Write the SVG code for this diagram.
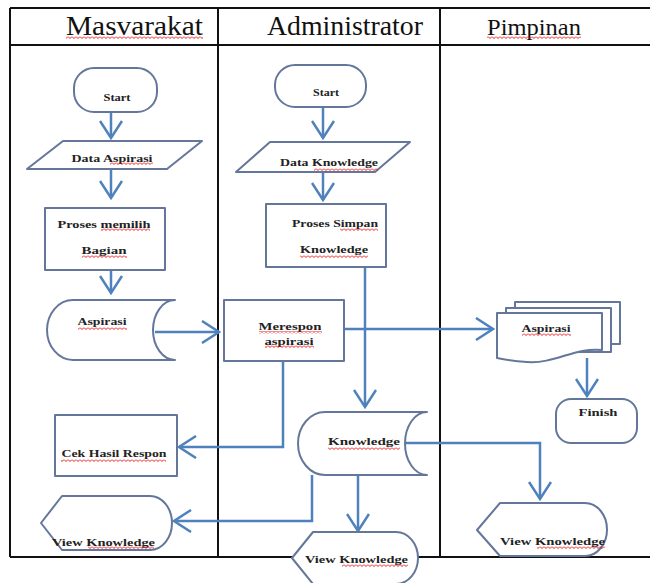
<svg xmlns="http://www.w3.org/2000/svg" width="650" height="583" viewBox="0 0 650 583">
<style>
.lane{stroke:#111;stroke-width:2;fill:none}
.hdr{font-family:'Liberation Serif','Times New Roman','DejaVu Serif',serif;fill:#111}
.shp{fill:#fff;stroke:#64779a;stroke-width:2;stroke-linejoin:round}
.lbl{font-family:'Liberation Serif','Times New Roman','DejaVu Serif',serif;font-size:11px;font-weight:bold;fill:#222;text-anchor:middle}
.lbs{font-family:'Liberation Serif','Times New Roman','DejaVu Serif',serif;font-size:11px;font-weight:bold;fill:#222}
.con{fill:none;stroke:#4f81bd;stroke-width:2.5;marker-end:url(#arr)}
.sq{fill:url(#wavy)}
</style>
<defs>
<marker id="arr" markerUnits="userSpaceOnUse" markerWidth="22" markerHeight="24" refX="17" refY="11" orient="auto" viewBox="-2 -1 22 24">
<path d="M0,0 L17,11 L0,22" fill="none" stroke="#4f81bd" stroke-width="2.5"/>
</marker>
<pattern id="wavy" width="4" height="3" patternUnits="userSpaceOnUse">
<path d="M0,0.5 L2,2.5 L4,0.5" fill="none" stroke="#e00" stroke-width="0.9"/>
</pattern>
</defs>
<rect width="650" height="583" fill="#fff"/>
<g id="swimlanes">
<path class="lane" d="M10,8 H650 M10,45 H650 M10,557 H650 M10,8 V557 M218,8 V557 M440,8 V557"/>
<text class="hdr" x="66" y="35" font-size="28" textLength="137" lengthAdjust="spacingAndGlyphs">Masvarakat</text>
<text class="hdr" x="267" y="35" font-size="28" textLength="156" lengthAdjust="spacingAndGlyphs">Administrator</text>
<text class="hdr" x="487" y="35" font-size="24" textLength="94" lengthAdjust="spacingAndGlyphs" fill="#402060">Pimpinan</text>
</g>
<g id="connectors">
<path class="con" d="M111,112 V138"/>
<path class="con" d="M111,169 V198"/>
<path class="con" d="M111,270 V293"/>
<path class="con" d="M155,332 H219"/>
<path class="con" d="M323,107 V138"/>
<path class="con" d="M323,172 V200"/>
<path class="con" d="M365,267 V407"/>
<path class="con" d="M344,329 H493"/>
<path class="con" d="M283,361 V447 H179"/>
<path class="con" d="M405,443 H540 V499"/>
<path class="con" d="M358,475 V531"/>
<path class="con" d="M312,475 V521 H174"/>
<path class="con" d="M587,358 V396"/>
</g>
<g id="start-masyarakat">
<rect class="shp" x="74" y="68" width="83" height="44" rx="20"/>
<text class="lbl" x="117" y="101" textLength="27" lengthAdjust="spacingAndGlyphs">Start</text>
</g>
<g id="data-aspirasi">
<polygon class="shp" points="63,141 202,141 167,169 27,169"/>
<text class="lbl" x="112" y="162" textLength="81" lengthAdjust="spacingAndGlyphs">Data Aspirasi</text>
</g>
<g id="proses-memilih">
<rect class="shp" x="45" y="208" width="120" height="62"/>
<text class="lbl" x="104" y="228" textLength="93" lengthAdjust="spacingAndGlyphs">Proses memilih</text>
<text class="lbl" x="104" y="254" textLength="45" lengthAdjust="spacingAndGlyphs">Bagian</text>
</g>
<g id="aspirasi-store">
<path class="shp" d="M73,300 H175 A22,30 0 0 0 175,360 H73 A26,30 0 0 1 73,300 Z"/>
<text class="lbl" x="102" y="325" textLength="49" lengthAdjust="spacingAndGlyphs">Aspirasi</text>
</g>
<g id="cek-hasil">
<rect class="shp" x="55" y="415" width="122" height="61"/>
<text class="lbl" x="114" y="457" textLength="105" lengthAdjust="spacingAndGlyphs">Cek Hasil Respon</text>
</g>
<g id="view-masyarakat">
<path class="shp" d="M41,523 L62,496 H150 A22,27 0 0 1 150,550 H62 Z"/>
<text class="lbs" x="52" y="546" textLength="103" lengthAdjust="spacingAndGlyphs">View Knowledge</text>
</g>
<g id="start-admin">
<rect class="shp" x="275" y="65" width="91" height="42" rx="20"/>
<text class="lbl" x="326" y="96" textLength="26" lengthAdjust="spacingAndGlyphs">Start</text>
</g>
<g id="data-knowledge">
<polygon class="shp" points="270,142 410,142 375,172 236,172"/>
<text class="lbl" x="329" y="166" textLength="98" lengthAdjust="spacingAndGlyphs">Data Knowledge</text>
</g>
<g id="proses-simpan">
<rect class="shp" x="266" y="204" width="120" height="63"/>
<text class="lbl" x="335" y="227" textLength="86" lengthAdjust="spacingAndGlyphs">Proses Simpan</text>
<text class="lbl" x="334" y="253" textLength="68" lengthAdjust="spacingAndGlyphs">Knowledge</text>
</g>
<g id="merespon">
<rect class="shp" x="224" y="300" width="120" height="61"/>
<text class="lbl" x="290" y="330" textLength="63" lengthAdjust="spacingAndGlyphs">Merespon</text>
<text class="lbl" x="289" y="345" textLength="49" lengthAdjust="spacingAndGlyphs">aspirasi</text>
</g>
<g id="knowledge-store">
<path class="shp" d="M325,412 H427 A22,31.5 0 0 0 427,475 H325 A27,31.5 0 0 1 325,412 Z"/>
<text class="lbl" x="364" y="445" textLength="72" lengthAdjust="spacingAndGlyphs">Knowledge</text>
</g>
<g id="view-admin">
<path class="shp" d="M292,558 L313,532 H396 A22,26 0 0 1 396,584 H313 Z"/>
<text class="lbs" x="305" y="563" textLength="103" lengthAdjust="spacingAndGlyphs">View Knowledge</text>
</g>
<g id="aspirasi-docs">
<rect class="shp" x="515" y="302" width="105" height="42"/>
<rect class="shp" x="506" y="308" width="105" height="44"/>
<path class="shp" d="M497,313 H602 V350 C575,347 555,364 527,362 C512,361 502,359 497,358 Z"/>
<text class="lbl" x="546" y="332" textLength="49" lengthAdjust="spacingAndGlyphs">Aspirasi</text>
</g>
<g id="finish">
<rect class="shp" x="556" y="399" width="81" height="44" rx="15"/>
<text class="lbl" x="598" y="416" textLength="39" lengthAdjust="spacingAndGlyphs" fill="#111">Finish</text>
</g>
<g id="view-pimpinan">
<path class="shp" d="M477,530 L500,503 H585 A22,26.5 0 0 1 585,556 H500 Z"/>
<text class="lbs" x="500" y="545" textLength="105" lengthAdjust="spacingAndGlyphs">View Knowledge</text>
</g>
<g id="spellcheck-marks">
<rect class="sq" x="66" y="36" width="137" height="3"/>
<rect class="sq" x="487" y="36" width="94" height="3"/>
<rect class="sq" x="110" y="162" width="43" height="3"/>
<rect class="sq" x="101" y="228" width="49" height="3"/>
<rect class="sq" x="82" y="255" width="45" height="3"/>
<rect class="sq" x="78" y="327" width="49" height="3"/>
<rect class="sq" x="61" y="459" width="105" height="3"/>
<rect class="sq" x="88" y="546" width="66" height="3"/>
<rect class="sq" x="314" y="168" width="64" height="3"/>
<rect class="sq" x="340" y="228" width="38" height="3"/>
<rect class="sq" x="300" y="255" width="68" height="3"/>
<rect class="sq" x="259" y="331" width="63" height="3"/>
<rect class="sq" x="265" y="345" width="49" height="3"/>
<rect class="sq" x="328" y="447" width="72" height="3"/>
<rect class="sq" x="342" y="564" width="66" height="3"/>
<rect class="sq" x="522" y="333" width="49" height="3"/>
<rect class="sq" x="537" y="546" width="68" height="3"/>
</g>
</svg>
